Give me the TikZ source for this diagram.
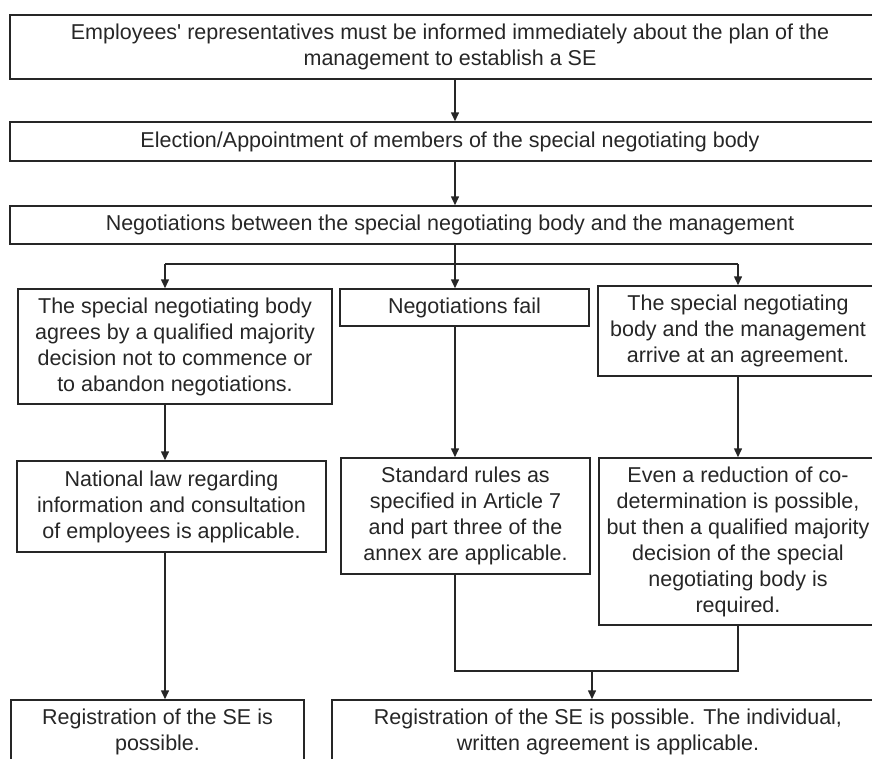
\documentclass[tikz,border=0pt]{standalone}
\usepackage{fontspec}
\setmainfont{Liberation Sans}
\usepackage{tikz}
\usetikzlibrary{arrows.meta,positioning,calc}

\begin{document}
\begin{tikzpicture}[x=1pt, y=-1pt,
    box/.style={draw=black!85, line width=1.5pt, inner sep=0pt, align=center, text=black!85, font=\fontsize{21.5}{26}\selectfont},
    arrow/.style={-{Triangle[length=9pt,width=8pt]}, line width=1.5pt, draw=black!85},
    link/.style={line width=1.5pt, draw=black!85}
]
  \useasboundingbox (0,0) rectangle (872,758);
  \clip (0,0) rectangle (872,758);

  % Columns and rows the connectors run along
  \coordinate (col_left) at (165,0);
  \coordinate (col_mid) at (455,0);
  \coordinate (col_right) at (738,0);
  \coordinate (col_join) at (592,0);
  \coordinate (split) at (0,264);
  \coordinate (merge) at (0,671);

  % Full width steps
  \node[box, minimum width=880pt, minimum height=64pt] (inform) at (450,47) {Employees\textquotesingle\ representatives must be informed immediately about the plan of the\\ management to establish a SE};
  \node[box, minimum width=880pt, minimum height=39pt] (elect) at (450,141.5) {Election/Appointment of members of the special negotiating body};
  \node[box, minimum width=880pt, minimum height=38pt] (negot) at (450,225) {Negotiations between the special negotiating body and the management};

  % Three outcomes
  \node[box, minimum width=314pt, minimum height=115pt] (abandon) at (175,346.5) {The special negotiating body\\ agrees by a qualified majority\\ decision not to commence or\\ to abandon negotiations.};
  \node[box, minimum width=249pt, minimum height=37pt] (fail) at (464.5,307.5) {Negotiations fail};
  \node[box, minimum width=280pt, minimum height=90pt] (agree) at (738,331) {The special negotiating\\ body and the management\\ arrive at an agreement.};

  % Consequences
  \node[box, minimum width=309pt, minimum height=91pt] (natlaw) at (171.5,506.5) {National law regarding\\ information and consultation\\ of employees is applicable.};
  \node[box, minimum width=249pt, minimum height=116pt] (stdrules) at (465.5,516) {Standard rules as\\ specified in Article 7\\ and part three of the\\ annex are applicable.};
  \node[box, minimum width=278pt, minimum height=167pt] (reduce) at (738,541.5) {Even a reduction of co-\\ determination is possible,\\ but then a qualified majority\\ decision of the special\\ negotiating body is\\ required.};

  % Registration
  \node[box, minimum width=293pt, minimum height=64pt] (reg_left) at (157.5,732) {Registration of the SE is\\ possible.};
  \node[box, minimum width=552pt, minimum height=64pt] (reg_right) at (608,732) {Registration of the SE is possible. The individual,\\ written agreement is applicable.};

  % Connectors
  \draw[arrow] (inform.south -| col_mid) -- (elect.north -| col_mid);
  \draw[arrow] (elect.south -| col_mid) -- (negot.north -| col_mid);
  \draw[link] (negot.south -| col_mid) -- (split -| col_mid);
  \draw[link] (split -| col_left) -- (split -| col_right);
  \draw[arrow] (split -| col_left) -- (abandon.north -| col_left);
  \draw[arrow] (split -| col_mid) -- (fail.north -| col_mid);
  \draw[arrow] (split -| col_right) -- (agree.north -| col_right);
  \draw[arrow] (abandon.south -| col_left) -- (natlaw.north -| col_left);
  \draw[arrow] (fail.south -| col_mid) -- (stdrules.north -| col_mid);
  \draw[arrow] (agree.south -| col_right) -- (reduce.north -| col_right);
  \draw[arrow] (natlaw.south -| col_left) -- (reg_left.north -| col_left);
  \draw[link] (stdrules.south -| col_mid) |- (merge -| col_right) -- (reduce.south -| col_right);
  \draw[arrow] (merge -| col_join) -- (reg_right.north -| col_join);

\end{tikzpicture}
\end{document}
